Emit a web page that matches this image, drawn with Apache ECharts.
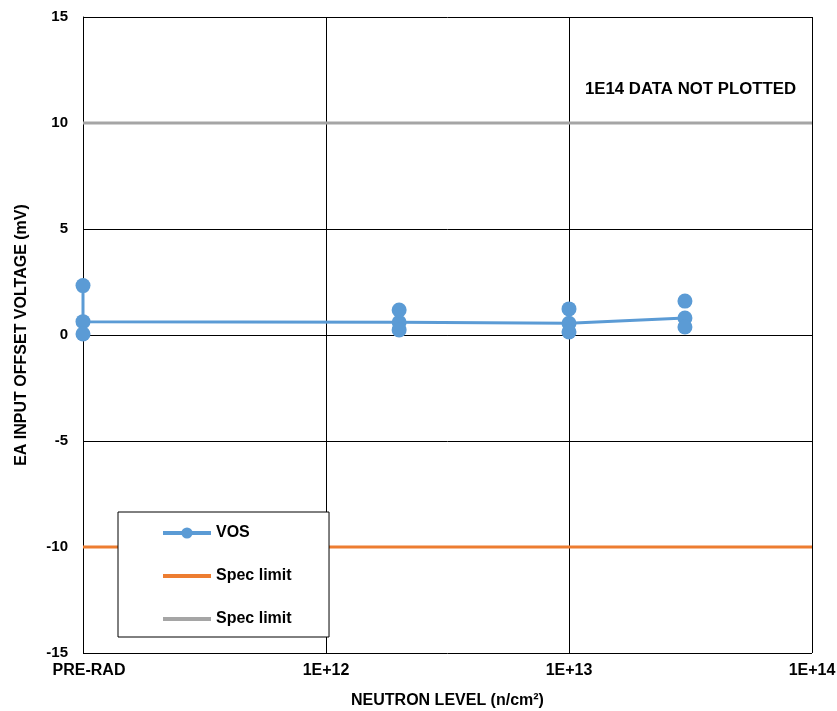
<!DOCTYPE html>
<html>
<head>
<meta charset="utf-8">
<script src="https://cdn.jsdelivr.net/npm/echarts@6/dist/echarts.min.js"></script>
<style>html,body{margin:0;padding:0;background:#fff}#c{width:837px;height:711px}</style>
</head>
<body>
<div id="c"></div>
<script>
// Neutron levels (PRE-RAD plotted at 1E11)
const xLevels = [1e11, 2e12, 1e13, 3e13];
const xTickLabels = {11: 'PRE-RAD', 12: '1E+12', 13: '1E+13', 14: '1E+14'};
const vosMax  = [2.33, 1.18, 1.23, 1.60];
const vosMean = [0.63, 0.60, 0.55, 0.80];
const vosMin  = [0.05, 0.24, 0.14, 0.38];
const specHigh = 10;
const specLow = -10;
const xRange = [1e11, 1e14];

const font = 'Arial, "Liberation Sans", sans-serif';
const blue = '#5B9BD5', orange = '#ED7D31', grey = '#A5A5A5';

// line path: top point at PRE-RAD then through mean values
const lineData = [[xLevels[0], vosMax[0]]].concat(xLevels.map((x, i) => [x, vosMean[i]]));
const extraPts = [];
xLevels.forEach((x, i) => {
  if (i > 0) extraPts.push([x, vosMax[i]]);
  extraPts.push([x, vosMin[i]]);
});

const chart = echarts.init(document.getElementById('c'));
chart.setOption({
  animation: false,
  grid: {left: 83, right: 25, top: 17, bottom: 58, outerBoundsMode: 'none', containLabel: false},
  xAxis: {
    type: 'log', logBase: 10, min: xRange[0], max: xRange[1],
    name: 'NEUTRON LEVEL (n/cm²)', nameLocation: 'middle', nameGap: 40,
    nameTextStyle: {fontFamily: font, fontWeight: 'bold', fontSize: 16, color: '#000'},
    axisLine: {lineStyle: {color: '#000', width: 1}},
    axisTick: {show: false},
    minorTick: {show: false},
    splitLine: {show: true, lineStyle: {color: '#000', width: 1}},
    axisLabel: {
      fontFamily: font, fontWeight: 'bold', fontSize: 16, color: '#000', margin: 10,
      formatter: v => {
        const k = Math.round(Math.log10(v));
        return k === 11 ? '{pre|PRE-RAD}' : (xTickLabels[k] || '');
      },
      rich: {pre: {fontFamily: font, fontWeight: 'bold', fontSize: 16, color: '#000', padding: [0, 0, 0, 12]}}
    }
  },
  yAxis: {
    type: 'value', min: -15, max: 15, interval: 5,
    name: 'EA INPUT OFFSET VOLTAGE (mV)', nameLocation: 'middle', nameGap: 53,
    nameTextStyle: {fontFamily: font, fontWeight: 'bold', fontSize: 16, color: '#000'},
    axisLine: {show: true, lineStyle: {color: '#000', width: 1}},
    axisTick: {show: false},
    splitLine: {show: true, lineStyle: {color: '#000', width: 1}},
    axisLabel: {fontFamily: font, fontWeight: 'bold', fontSize: 15, color: '#000', margin: 15}
  },
  legend: {
    orient: 'vertical', left: 118, top: 512,
    data: [
      {name: 'VOS'},
      {name: 'Spec limit', itemStyle: {opacity: 0}},
      {name: 'Spec limit ', itemStyle: {opacity: 0}}
    ],
    backgroundColor: '#fff', borderColor: '#000', borderWidth: 1,
    padding: [13, 33, 10, 43],
    itemWidth: 48, itemHeight: 14, itemGap: 27,
    lineStyle: {width: 4},
    textStyle: {fontFamily: font, fontWeight: 'bold', fontSize: 16, color: '#000'}
  },
  graphic: [{
    type: 'text', left: 585, top: 81,
    style: {text: '1E14 DATA NOT PLOTTED', font: 'bold 16.8px ' + font, fill: '#000'}
  }],
  series: [
    {
      name: 'Spec limit', type: 'line', data: [[xRange[0], specLow], [xRange[1], specLow]],
      symbol: 'none', lineStyle: {color: orange, width: 3}, itemStyle: {color: orange}, z: 3
    },
    {
      name: 'Spec limit ', type: 'line', data: [[xRange[0], specHigh], [xRange[1], specHigh]],
      symbol: 'none', lineStyle: {color: grey, width: 3}, itemStyle: {color: grey}, z: 3
    },
    {
      name: 'VOS', type: 'line', data: lineData,
      symbol: 'circle', symbolSize: 15, showSymbol: true,
      lineStyle: {color: blue, width: 3}, itemStyle: {color: blue}, z: 5
    },
    {
      name: 'VOS pts', type: 'scatter', data: extraPts,
      symbol: 'circle', symbolSize: 15, itemStyle: {color: blue, opacity: 1}, z: 5
    }
  ]
});
</script>
</body>
</html>
